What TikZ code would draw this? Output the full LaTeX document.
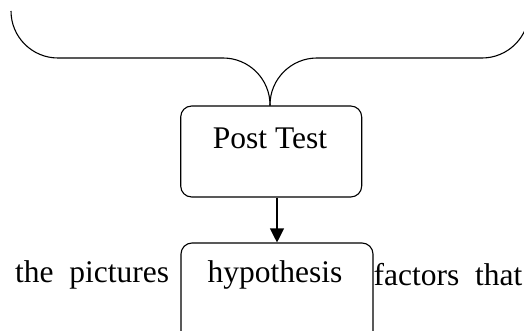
\documentclass[tikz,border=0pt]{standalone}
\usepackage{fontspec}
\setmainfont{Liberation Serif}
\usetikzlibrary{arrows.meta,calc}
\begin{document}
\begin{tikzpicture}[x=1pt,y=1pt,
  line/.style={line width=1.1pt, black},
  boxstyle/.style={draw, line width=1.1pt, rounded corners=11pt, inner sep=0pt},
  txt/.style={font=\fontsize{31.5}{36}\selectfont, inner sep=0pt, anchor=center},
  arr/.style={line width=1.1pt, -{Triangle[width=14pt,length=14pt]}}]
\useasboundingbox (0,0) rectangle (524,330);
\clip (0,0) rectangle (524,330);
% boxes
\node[boxstyle, minimum width=181pt, minimum height=91pt] (post) at (271.2,178.5) {};
\node[txt] (posttxt) at (270,192) {Post Test};
\node[boxstyle, minimum width=192pt, minimum height=120pt] (hyp) at (277,27) {};
\node[txt] (hyptxt) at (275,55) {hypothesis};
\node[txt, anchor=west] (left) at (15,55) {the\ \ pictures};
\node[txt, anchor=west] (right) at (373.5,55) {factors\ \ that};
% brace
\coordinate (tip) at (270,224.5);
\draw[line] (11,319) arc[start angle=180, end angle=270, radius=47]
  -- (223,272) arc[start angle=90, end angle=0, radius=47] -- (tip);
\draw[line] (tip) -- (270,225) arc[start angle=180, end angle=90, radius=47]
  -- (482,272) arc[start angle=270, end angle=360, radius=47];
% arrow
\draw[arr] (post.south -| hyp.north) -- (hyp.north);
\end{tikzpicture}
\end{document}
